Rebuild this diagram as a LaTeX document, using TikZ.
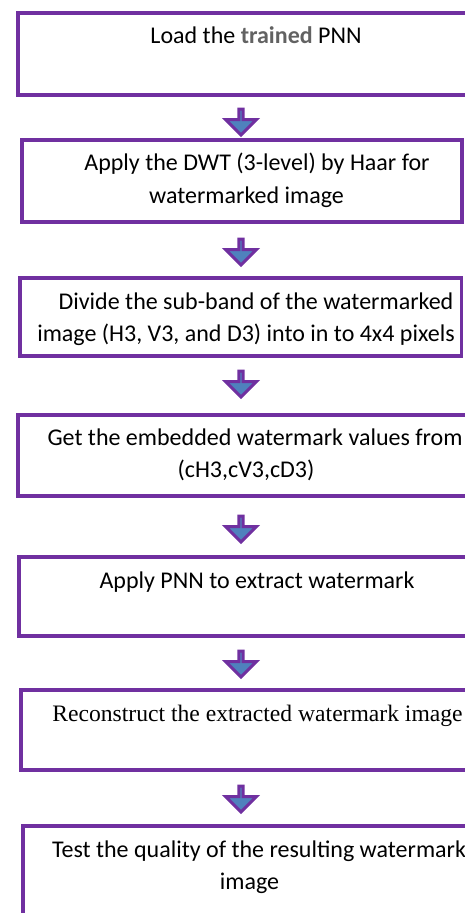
\documentclass[tikz,border=0pt]{standalone}
\usepackage{fontspec}
\setmainfont{Carlito}
\newfontfamily\timesfont{Liberation Serif}
\usetikzlibrary{shapes.arrows}
\definecolor{boxpurple}{RGB}{112,48,160}
\definecolor{arrowblue}{RGB}{79,129,189}
\definecolor{traingray}{RGB}{98,98,98}
\begin{document}
\begin{tikzpicture}[x=1pt,y=-1pt,
  box/.style={draw=boxpurple, line width=3.5pt, anchor=north west, inner sep=0pt, outer sep=0pt},
  openbox/.style={anchor=north west, inner sep=0pt, outer sep=0pt},
  boxline/.style={draw=boxpurple, line width=3.5pt, line join=miter, line cap=butt},
  blockarrow/.style={single arrow, draw=boxpurple, fill=arrowblue, line width=3pt,
    rotate=-90, minimum height=26pt, minimum width=31pt,
    single arrow head extend=9pt, inner sep=0pt},
  txt/.style={anchor=base, inner sep=0pt, font=\fontsize{24}{28}\selectfont},
  serif/.style={anchor=base, inner sep=0pt, font=\timesfont\fontsize{23.6}{28}\selectfont}]
\useasboundingbox (0,0) rectangle (465,913);
% boxes (closed ones)
\node[box, minimum width=440pt, minimum height=82pt] (b2) at (22,140) {};
\node[box, minimum width=441.5pt, minimum height=78pt] (b3) at (20,278) {};
% boxes running off the right edge (open on the right)
\node[openbox, minimum width=448pt, minimum height=82pt] (b1) at (18,13) {};
\node[openbox, minimum width=448pt, minimum height=81pt] (b4) at (18,415) {};
\node[openbox, minimum width=447pt, minimum height=79pt] (b5) at (19,557) {};
\node[openbox, minimum width=445pt, minimum height=80pt] (b6) at (21,690) {};
\node[openbox, minimum width=443pt, minimum height=100pt] (b7) at (23,826) {};
\foreach \b in {b1,b4,b5,b6}
  \draw[boxline] (\b.north east) -- (\b.north west) -- (\b.south west) -- (\b.south east);
\draw[boxline] (b7.north east) -- (b7.north west) -- (b7.south west);
% arrows
\node[blockarrow] (a1) at (241,121) {};
\node[blockarrow] (a2) at (241,251) {};
\node[blockarrow] (a3) at (241,383) {};
\node[blockarrow] (a4) at (241,528) {};
\node[blockarrow] (a5) at (241,663) {};
\node[blockarrow] (a6) at (241,798) {};
% texts
\node[txt] (t1) at (256,43) {Load the {\color{traingray}\bfseries trained} PNN};
\node[txt] (t2a) at (257,170) {Apply the DWT (3-level) by Haar for};
\node[txt] (t2b) at (246.5,203) {watermarked image};
\node[txt] (t3a) at (256,309) {Divide the sub-band of the watermarked};
\node[txt] (t3b) at (246,341) {image (H3, V3, and D3) into in to 4x4 pixels};
\node[txt] (t4a) at (255,445) {Get the embedded watermark values from};
\node[txt] (t4b) at (246,477) {(cH3,cV3,cD3)};
\node[txt] (t5) at (257,588) {Apply PNN to extract watermark};
\node[serif] (t6) at (257.5,721) {Reconstruct the extracted watermark image};
\node[txt] (t7a) at (259,857) {Test the quality of the resulting watermark};
\node[txt] (t7b) at (249.5,889) {image};
\end{tikzpicture}
\end{document}
